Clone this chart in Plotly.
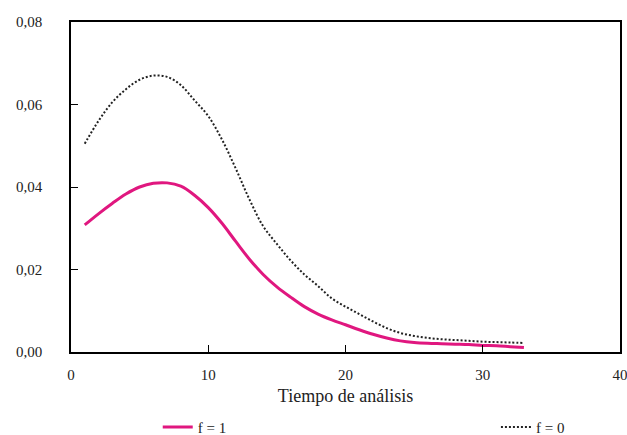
import plotly.graph_objects as go

tiempo = list(range(1, 34))
f1 = [0.0308, 0.0335, 0.0360, 0.0383, 0.0400, 0.0409, 0.0410, 0.0402, 0.0380, 0.0350,
      0.0312, 0.0268, 0.0225, 0.0188, 0.0158, 0.0133, 0.0110, 0.0092, 0.0078, 0.0066,
      0.0054, 0.0043, 0.0034, 0.0027, 0.0023, 0.0021, 0.0020, 0.0019, 0.0018, 0.0016,
      0.0015, 0.0013, 0.0011]
f0 = [0.0505, 0.0560, 0.0605, 0.0637, 0.0660, 0.0670, 0.0667, 0.0647, 0.0610, 0.0572,
      0.0515, 0.0445, 0.0370, 0.0305, 0.0262, 0.0222, 0.0188, 0.0160, 0.0130, 0.0110,
      0.0092, 0.0074, 0.0058, 0.0046, 0.0039, 0.0034, 0.0031, 0.0029, 0.0027, 0.0025,
      0.0024, 0.0023, 0.0022]
x_ticks = [0, 10, 20, 30, 40]
y_ticks = [0.00, 0.02, 0.04, 0.06, 0.08]

FONT = "Liberation Serif"

fig = go.Figure()
fig.add_trace(go.Scatter(x=tiempo, y=f1, mode="lines", name="f = 1", legend="legend",
                         line=dict(color="#E0177F", width=3, shape="spline")))
fig.add_trace(go.Scatter(x=tiempo, y=f0, mode="lines", name="f = 0", legend="legend2",
                         line=dict(color="#222222", width=2, dash="2px,2px",
                                   shape="spline")))

leg_common = dict(orientation="h", xanchor="left", yanchor="middle", y=-0.228,
                  font=dict(family=FONT, size=15, color="#222222"),
                  bgcolor="rgba(0,0,0,0)")

fig.update_layout(
    width=627, height=435,
    margin=dict(l=71, r=7, t=22, b=83, autoexpand=False),
    paper_bgcolor="white", plot_bgcolor="white",
    separators=",.",
    font=dict(family=FONT, size=15, color="#222222"),
    showlegend=True,
    legend=dict(x=0.158, **leg_common),
    legend2=dict(x=0.774, **leg_common),
    xaxis=dict(range=[0, 40], tickvals=x_ticks, ticks="inside", ticklen=7,
               tickcolor="black", showline=True, linecolor="black", linewidth=1.5,
               mirror=True, showgrid=False, zeroline=False, ticklabelstandoff=8,
               ticklabeloverflow="allow",
               title=dict(text="Tiempo de análisis", font=dict(family=FONT, size=18),
                          standoff=8)),
    yaxis=dict(range=[0, 0.08], tickvals=y_ticks, tickformat=".2f", ticks="inside",
               ticklen=7, tickcolor="black", showline=True, linecolor="black",
               linewidth=1.5, mirror=True, showgrid=False, zeroline=False,
               ticklabelstandoff=24, ticklabeloverflow="allow"),
)

fig.write_html(
    "out.html",
    config={"displayModeBar": False},
    post_script="document.body.style.margin='0';document.body.style.overflow='hidden';",
)
